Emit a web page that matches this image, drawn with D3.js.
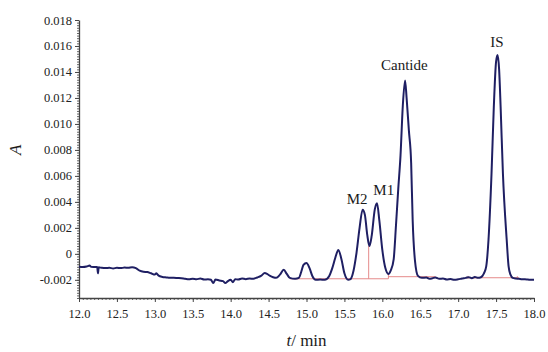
<!DOCTYPE html>
<html>
<head>
<meta charset="utf-8">
<script src="https://cdn.jsdelivr.net/npm/d3@7"></script>
<style>
  html, body { margin: 0; padding: 0; background: #fff; }
  svg { display: block; font-family: "Liberation Serif", "DejaVu Serif", serif; }
</style>
</head>
<body>
<div id="chart"></div>
<script>
// retention time (min) and absorbance
const times = [
  12.00, 12.05, 12.10, 12.14, 12.16, 12.22, 12.24, 12.25, 12.26, 12.30,
  12.35, 12.40, 12.45, 12.50, 12.55, 12.60, 12.65, 12.70, 12.75, 12.80,
  12.85, 12.90, 12.95, 13.00, 13.02, 13.05, 13.10, 13.15, 13.20, 13.25,
  13.30, 13.35, 13.40, 13.45, 13.50, 13.55, 13.60, 13.65, 13.70, 13.74,
  13.77, 13.80, 13.85, 13.90, 13.93, 13.96, 14.00, 14.03, 14.06, 14.10,
  14.15, 14.20, 14.25, 14.30, 14.35, 14.40, 14.45, 14.48, 14.52, 14.56,
  14.60, 14.65, 14.70, 14.74, 14.78, 14.85, 14.90, 14.93, 14.96, 15.00,
  15.04, 15.08, 15.12, 15.18, 15.24, 15.30, 15.34, 15.38, 15.42, 15.46,
  15.50, 15.55, 15.58, 15.62, 15.66, 15.70, 15.74, 15.77, 15.80, 15.83,
  15.86, 15.90, 15.93, 15.96, 16.00, 16.04, 16.08, 16.11, 16.15, 16.18,
  16.21, 16.24, 16.27, 16.30, 16.32, 16.35, 16.38, 16.40, 16.43, 16.47,
  16.52, 16.58, 16.62, 16.66, 16.70, 16.75, 16.80, 16.85, 16.90, 16.95,
  17.00, 17.05, 17.10, 17.14, 17.18, 17.22, 17.26, 17.30, 17.34, 17.37,
  17.40, 17.44, 17.47, 17.50, 17.52, 17.54, 17.56, 17.59, 17.64, 17.665,
  17.69, 17.72, 17.76, 17.80, 17.84, 17.88, 17.92, 17.96, 18.00
];
const absorb = [
  -0.00100, -0.00102, -0.00098, -0.00090, -0.00100, -0.00102, -0.00102, -0.00150, -0.00104, -0.00108,
  -0.00110, -0.00108, -0.00112, -0.00108, -0.00110, -0.00106, -0.00108, -0.00104, -0.00110, -0.00130,
  -0.00138, -0.00140, -0.00150, -0.00160, -0.00150, -0.00168, -0.00178, -0.00182, -0.00185, -0.00184,
  -0.00186, -0.00188, -0.00192, -0.00195, -0.00192, -0.00196, -0.00190, -0.00198, -0.00196, -0.00200,
  -0.00225, -0.00198, -0.00205, -0.00210, -0.00225, -0.00212, -0.00200, -0.00218, -0.00195, -0.00198,
  -0.00190, -0.00195, -0.00190, -0.00192, -0.00182, -0.00170, -0.00148, -0.00155, -0.00170, -0.00180,
  -0.00185, -0.00160, -0.00122, -0.00155, -0.00185, -0.00192, -0.00185, -0.00140, -0.00085, -0.00070,
  -0.00110, -0.00175, -0.00200, -0.00198, -0.00200, -0.00170, -0.00110, -0.00030, 0.00030, -0.00040,
  -0.00150, -0.00200, -0.00195, -0.00130, 0.00010, 0.00200, 0.00340, 0.00300, 0.00150, 0.00060,
  0.00140, 0.00340, 0.00390, 0.00260, 0.00030, -0.00110, -0.00155, -0.00130, -0.00040, 0.00220,
  0.00500, 0.00760, 0.01140, 0.01335, 0.01200, 0.00950, 0.00700, 0.00260, -0.00050, -0.00170,
  -0.00185, -0.00182, -0.00192, -0.00188, -0.00182, -0.00192, -0.00190, -0.00198, -0.00194, -0.00200,
  -0.00196, -0.00190, -0.00185, -0.00180, -0.00188, -0.00178, -0.00185, -0.00180, -0.00150, -0.00097,
  0.00108, 0.00620, 0.01130, 0.01480, 0.01530, 0.01420, 0.01130, 0.00620, 0.00108, -0.00097,
  -0.00160, -0.00185, -0.00190, -0.00192, -0.00195, -0.00196, -0.00198, -0.00200, -0.00200
];

const xTicks = [12.0, 12.5, 13.0, 13.5, 14.0, 14.5, 15.0, 15.5, 16.0, 16.5, 17.0, 17.5, 18.0];
const yTicks = [-0.002, 0, 0.002, 0.004, 0.006, 0.008, 0.010, 0.012, 0.014, 0.016, 0.018];
const yTickLabels = ["-0.002", "0", "0.002", "0.004", "0.006", "0.008", "0.010", "0.012", "0.014", "0.016", "0.018"];

// peak annotations
const peakNames = ["M2", "M1", "Cantide", "IS"];
const peakTimes = [15.72, 15.94, 16.29, 17.51];
const peakTops = [0.00340, 0.00390, 0.01335, 0.01530];

// integration baselines (red): [t0, A0, t1, A1]
const baseSegments = [
  [14.78, -0.00192, 16.08, -0.00192],
  [16.08, -0.00176, 16.70, -0.00176],
  [17.10, -0.00184, 17.80, -0.00184]
];
// vertical drop lines: [t, Atop, Abottom]
const dropLines = [
  [15.82, 0.00060, -0.00192],
  [16.08, -0.00155, -0.00192],
  [17.13, -0.00170, -0.00190],
  [17.22, -0.00170, -0.00190],
  [17.78, -0.00172, -0.00190]
];

const width = 548, height = 352;
const margin = { left: 79, right: 14, top: 20, bottom: 54 };

const svg = d3.select("#chart").append("svg")
  .attr("width", width)
  .attr("height", height);

const x = d3.scaleLinear().domain([12, 18]).range([margin.left, width - margin.right]);
const y = d3.scaleLinear().domain([-0.0034, 0.018]).range([height - margin.bottom, margin.top]);

const axisColor = "#444";
const textColor = "#222";

// minor ticks
const xMinor = d3.range(12, 18.0001, 0.05);
const yMinor = d3.range(-0.0034, 0.01801, 0.0002);

svg.append("g")
  .attr("transform", `translate(0,${y.range()[0]})`)
  .call(d3.axisBottom(x).tickValues(xMinor).tickSize(2).tickFormat(""))
  .call(g => g.select(".domain").remove())
  .selectAll("line").attr("stroke", "#666");

svg.append("g")
  .attr("transform", `translate(${x.range()[0]},0)`)
  .call(d3.axisLeft(y).tickValues(yMinor).tickSize(2).tickFormat(""))
  .call(g => g.select(".domain").remove())
  .selectAll("line").attr("stroke", "#666");

// major axes
const xAxis = svg.append("g")
  .attr("transform", `translate(0,${y.range()[0]})`)
  .call(d3.axisBottom(x).tickValues(xTicks).tickSize(4).tickSizeOuter(0).tickFormat(d3.format(".1f")));

const yAxis = svg.append("g")
  .attr("transform", `translate(${x.range()[0]},0)`)
  .call(d3.axisLeft(y).tickValues(yTicks).tickSize(4).tickSizeOuter(0)
    .tickFormat((d, i) => yTickLabels[i]));

[xAxis, yAxis].forEach(g => {
  g.select(".domain").attr("stroke", axisColor).attr("stroke-width", 1.3);
  g.selectAll(".tick line").attr("stroke", axisColor);
  g.selectAll(".tick text")
    .attr("fill", textColor)
    .style("font-family", "'Liberation Serif', serif")
    .style("font-size", "12.5px");
});
xAxis.selectAll(".tick text").attr("dy", "1.05em");
yAxis.selectAll(".tick text").attr("x", -7);

// integration baselines
svg.append("g")
  .selectAll("line")
  .data(baseSegments)
  .join("line")
  .attr("x1", d => x(d[0]))
  .attr("y1", d => y(d[1]))
  .attr("x2", d => x(d[2]))
  .attr("y2", d => y(d[3]))
  .attr("stroke", "#e58a8a")
  .attr("stroke-width", 1);

svg.append("g")
  .selectAll("line")
  .data(dropLines)
  .join("line")
  .attr("x1", d => x(d[0]))
  .attr("x2", d => x(d[0]))
  .attr("y1", d => y(d[1]))
  .attr("y2", d => y(d[2]))
  .attr("stroke", "#e58a8a")
  .attr("stroke-width", 1);

// chromatogram trace
const line = d3.line()
  .x((d, i) => x(times[i]))
  .y(d => y(d))
  .curve(d3.curveMonotoneX);

svg.append("path")
  .datum(absorb)
  .attr("fill", "none")
  .attr("stroke", "#1f1f63")
  .attr("stroke-width", 2)
  .attr("stroke-linejoin", "round")
  .attr("d", line);

// peak labels
const labelOffsets = [[-4, -6], [6, -8], [0, -10], [0, -8]];
svg.append("g")
  .selectAll("text")
  .data(peakNames)
  .join("text")
  .attr("x", (d, i) => x(peakTimes[i]) + labelOffsets[i][0])
  .attr("y", (d, i) => y(peakTops[i]) + labelOffsets[i][1])
  .attr("text-anchor", "middle")
  .attr("fill", "#1a1a1a")
  .style("font-size", "15px")
  .text(d => d);

// axis titles
svg.append("text")
  .attr("transform", `translate(21,${y(0.008)}) rotate(-90)`)
  .attr("text-anchor", "middle")
  .attr("fill", "#1a1a1a")
  .style("font-size", "17px")
  .style("font-style", "italic")
  .text("A");

const xt = svg.append("text")
  .attr("x", x(15.0))
  .attr("y", 346)
  .attr("text-anchor", "middle")
  .attr("fill", "#1a1a1a")
  .style("font-size", "17px");
xt.append("tspan").style("font-style", "italic").text("t");
xt.append("tspan").text("/ min");
</script>
</body>
</html>
